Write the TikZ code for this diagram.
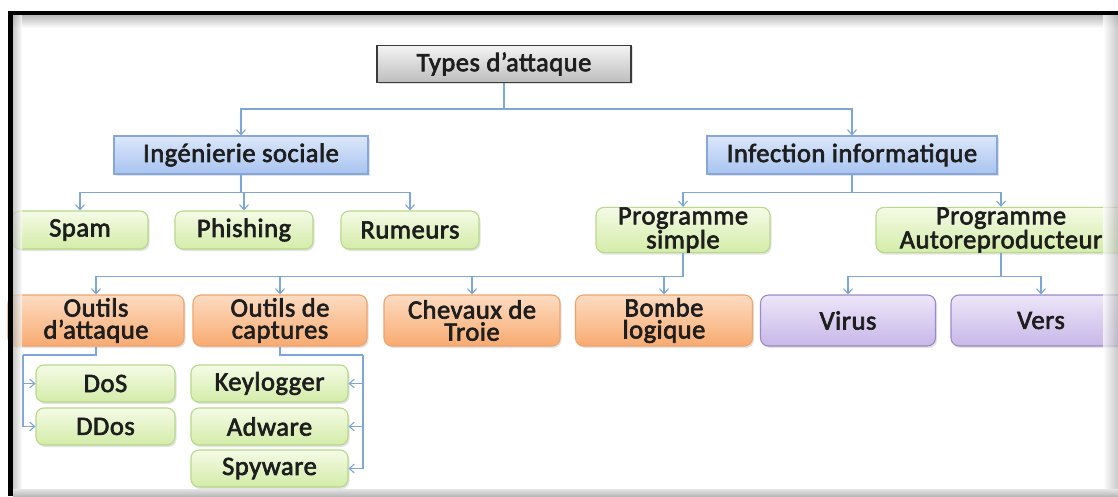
\documentclass[tikz,border=0pt]{standalone}
\usepackage{fontspec}
\setmainfont{Carlito}
\newfontfamily\boxfont{Carlito}[FakeBold=2.5, LetterSpace=2]
\usetikzlibrary{arrows.meta,shadows}

\definecolor{inkdark}{HTML}{1E1E1E}
\definecolor{linkblue}{HTML}{7EA6D8}
\definecolor{roottop}{HTML}{F4F4F4}
\definecolor{rootbot}{HTML}{BDBDBD}
\definecolor{rootedge}{HTML}{3A3A3A}
\definecolor{cattop}{HTML}{DCE8FB}
\definecolor{catbot}{HTML}{A8C3F0}
\definecolor{catedge}{HTML}{86A6DC}
\definecolor{leaftop}{HTML}{F5FBE6}
\definecolor{leafbot}{HTML}{D3ECA8}
\definecolor{leafedge}{HTML}{B8D88A}
\definecolor{tooltop}{HTML}{FDDCC2}
\definecolor{toolbot}{HTML}{F8AA70}
\definecolor{tooledge}{HTML}{EFA46C}
\definecolor{wormtop}{HTML}{EDE6F9}
\definecolor{wormbot}{HTML}{C7B7E8}
\definecolor{wormedge}{HTML}{9C8BC6}

\begin{document}
\begin{tikzpicture}[x=1pt, y=1pt]
    % Styles
    \tikzstyle{block} = [draw, rectangle, inner sep=0pt, align=center, text=inkdark, font=\fontsize{26.5}{22}\boxfont, line width=1.1pt, drop shadow={shadow xshift=1.5pt, shadow yshift=-2pt, opacity=0.22}]
    \tikzstyle{rootblock} = [block, draw=rootedge, top color=roottop, bottom color=rootbot, minimum width=254pt, minimum height=37pt]
    \tikzstyle{catblock} = [block, draw=catedge, top color=cattop, bottom color=catbot, minimum height=38pt]
    \tikzstyle{leafblock} = [block, rounded corners=8pt, draw=leafedge, top color=leaftop, bottom color=leafbot]
    \tikzstyle{toolblock} = [block, rounded corners=8pt, draw=tooledge, top color=tooltop, bottom color=toolbot, minimum height=51pt]
    \tikzstyle{wormblock} = [block, rounded corners=8pt, draw=wormedge, top color=wormtop, bottom color=wormbot, minimum height=51pt]
    \tikzstyle{link} = [draw=linkblue, line width=1.1pt, -{Straight Barb[length=5pt, width=9pt]}]
    \tikzstyle{bus} = [draw=linkblue, line width=1.1pt]

    \useasboundingbox (0,0) rectangle (1118,496);
    \fill[white] (0,0) rectangle (1118,496);

    % Nodes
    \node[rootblock] (types) at (504, 432) {Types d’attaque};

    \node[catblock, minimum width=254pt] (social) at (241, 341) {Ingénierie sociale};
    \node[catblock, minimum width=290pt] (infection) at (852, 341) {Infection informatique};

    \node[leafblock, minimum width=136pt, minimum height=38pt] (spam) at (80, 266) {Spam};
    \node[leafblock, minimum width=138pt, minimum height=38pt] (phishing) at (244, 266) {Phishing};
    \node[leafblock, minimum width=138pt, minimum height=38pt] (rumeurs) at (410, 266) {Rumeurs};
    \node[leafblock, minimum width=174pt, minimum height=38pt] (progsimple) at (683, 266) {Programme\\simple};
    \node[leafblock, minimum width=250pt, minimum height=38pt] (progauto) at (1001, 266) {Programme\\Autoreproducteur};

    \node[toolblock, minimum width=176pt] (outatt) at (96, 175.5) {Outils\\d’attaque};
    \node[toolblock, minimum width=174pt] (outcap) at (280, 175.5) {Outils de\\captures};
    \node[toolblock, minimum width=176pt] (chevaux) at (472, 175.5) {Chevaux de\\Troie};
    \node[toolblock, minimum width=177pt] (bombe) at (664, 175.5) {Bombe\\logique};
    \node[wormblock, minimum width=175pt] (virus) at (848, 175.5) {Virus};
    \node[wormblock, minimum width=180pt] (vers) at (1041, 175.5) {Vers};

    \node[leafblock, minimum width=139pt, minimum height=37pt] (dos) at (105.5, 112.5) {DoS};
    \node[leafblock, minimum width=139pt, minimum height=37pt] (ddos) at (105.5, 69.5) {DDos};
    \node[leafblock, minimum width=157pt, minimum height=37pt] (keylog) at (269.5, 112.5) {Keylogger};
    \node[leafblock, minimum width=157pt, minimum height=37pt] (adware) at (269.5, 69.5) {Adware};
    \node[leafblock, minimum width=157pt, minimum height=37pt] (spyware) at (269.5, 27.5) {Spyware};

    \coordinate (lbus) at (23, 141);
    \coordinate (rbus) at (363, 141);

    % Flow arrows
    \foreach \n in {social, infection}
        \draw[link] (types.south) -- ++(0,-26) -| (\n.north);
    \foreach \n in {spam, phishing, rumeurs}
        \draw[link] (social.south) -- ++(0,-18) -| (\n.north);
    \foreach \n in {progsimple, progauto}
        \draw[link] (infection.south) -- ++(0,-18) -| (\n.north);
    \foreach \n in {outatt, outcap, chevaux, bombe}
        \draw[link] (progsimple.south) -- ++(0,-23) -| (\n.north);
    \foreach \n in {virus, vers}
        \draw[link] (progauto.south) -- ++(0,-23) -| (\n.north);

    \draw[bus] (outatt.south) |- (lbus);
    \foreach \n in {dos, ddos}
        \draw[link] (lbus) |- (\n.west);
    \draw[bus] (outcap.south) |- (rbus);
    \foreach \n in {keylog, adware, spyware}
        \draw[link] (rbus) |- (\n.east);

    % Frame
    \shade[top color=gray!55, bottom color=white] (13,481) rectangle (1118,468);
    \shade[left color=gray!60, right color=white, opacity=0.7] (13,0) rectangle (22,481);
    \shade[left color=white, right color=gray!60, opacity=0.7] (1103,0) rectangle (1118,481);
    \shade[top color=gray!20, bottom color=gray!55] (13,0) rectangle (1118,7);
    \fill[black] (8,0) rectangle (13,484.5);
    \fill[black] (8,480.5) rectangle (1118,484.5);
\end{tikzpicture}
\end{document}
